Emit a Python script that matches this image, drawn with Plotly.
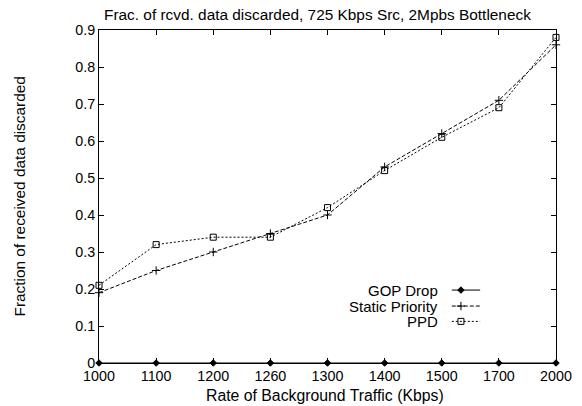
import plotly.graph_objects as go

rates = ["1000", "1100", "1200", "1260", "1300", "1400", "1500", "1700", "2000"]
gop_drop = [0, 0, 0, 0, 0, 0, 0, 0, 0]
static_priority = [0.19, 0.25, 0.30, 0.35, 0.40, 0.53, 0.62, 0.71, 0.86]
ppd = [0.21, 0.32, 0.34, 0.34, 0.42, 0.52, 0.61, 0.69, 0.88]
series_names = ["GOP Drop", "Static Priority", "PPD"]
y_ticks = [0, 0.1, 0.2, 0.3, 0.4, 0.5, 0.6, 0.7, 0.8, 0.9]

FONT = "Liberation Sans, Arial, Helvetica, sans-serif"
styles = [
    dict(dash="solid", symbol="diamond", size=5),
    dict(dash="4px,2px", symbol="cross-thin-open", size=6),
    dict(dash="2px,2px", symbol="square-open", size=6),
]

fig = go.Figure()
for name, vals, st in zip(series_names, [gop_drop, static_priority, ppd], styles):
    fig.add_trace(go.Scatter(
        x=rates, y=vals, name=name, mode="lines+markers",
        line=dict(color="black", width=1, dash=st["dash"]),
        marker=dict(symbol=st["symbol"], size=st["size"], color="black",
                    line=dict(color="black", width=1)),
        cliponaxis=False, showlegend=False,
    ))

# gnuplot-style legend: text on the left, sample on the right
leg_y = [0.219, 0.171, 0.125]
for name, st, ly in zip(series_names, styles, leg_y):
    fig.add_annotation(text=name, xref="paper", yref="paper", x=0.746, y=ly,
                       xanchor="right", yanchor="middle", showarrow=False,
                       font=dict(family=FONT, size=15, color="black"))
    fig.add_shape(type="line", xref="paper", yref="paper", x0=0.772, x1=0.834,
                  y0=ly, y1=ly, line=dict(color="black", width=1, dash=st["dash"]))
    fig.add_trace(go.Scatter(
        x=[0.792], y=[ly], xaxis="x2", yaxis="y2", mode="markers",
        marker=dict(symbol=st["symbol"], size=st["size"], color="black",
                    line=dict(color="black", width=1)),
        showlegend=False, hoverinfo="skip", cliponaxis=False,
    ))

# axis titles
fig.add_annotation(text="Rate of Background Traffic (Kbps)", xref="paper", yref="paper",
                   x=0.495, y=-0.099, xanchor="center", yanchor="middle", showarrow=False,
                   font=dict(family=FONT, size=15.8, color="black"))
fig.add_annotation(text="Fraction of received data discarded", xref="paper", yref="paper",
                   x=-0.175, y=0.5, xanchor="center", yanchor="middle", showarrow=False,
                   textangle=-90, font=dict(family=FONT, size=15.4, color="black"))

fig.update_layout(
    width=582, height=406,
    margin=dict(l=99, r=26, t=30, b=43),
    paper_bgcolor="white", plot_bgcolor="white",
    font=dict(family=FONT, size=14.3, color="black"),
    showlegend=False,
    hovermode=False,
    title=dict(text="Frac. of rcvd. data discarded, 725 Kbps Src, 2Mpbs Bottleneck",
               xref="paper", x=0.478, xanchor="center", y=1 - 14.5 / 406, yanchor="middle",
               font=dict(family=FONT, size=15.4, color="black")),
    xaxis=dict(type="category", categoryorder="array", categoryarray=rates,
               range=[0, 8], showgrid=False, zeroline=False,
               showline=True, linecolor="black", linewidth=1, mirror="ticks",
               ticks="inside", ticklen=5, tickcolor="black",
               tickfont=dict(family=FONT, size=14.3, color="black"),
               automargin=False),
    yaxis=dict(range=[0, 0.9], tickvals=y_ticks, ticktext=[f"{v:g}" for v in y_ticks],
               showgrid=False, zeroline=False,
               showline=True, linecolor="black", linewidth=1, mirror="ticks",
               ticks="inside", ticklen=5, tickcolor="black",
               tickfont=dict(family=FONT, size=14.3, color="black"),
               automargin=False),
    xaxis2=dict(range=[0, 1], overlaying="x", visible=False, fixedrange=True),
    yaxis2=dict(range=[0, 1], overlaying="y", visible=False, fixedrange=True),
)

# remove the page's default 8px body margin so the figure fills the window exactly
fig.write_html("out.html",
               config={"displayModeBar": False, "staticPlot": True},
               post_script="document.body.style.margin='0';document.body.style.overflow='hidden';")
